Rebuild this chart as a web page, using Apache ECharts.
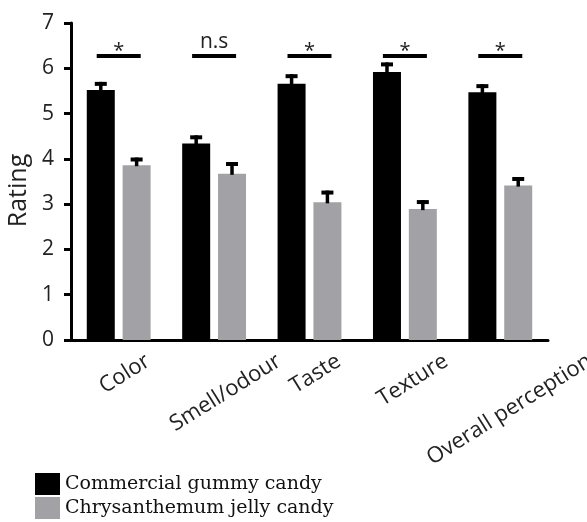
<!DOCTYPE html>
<html>
<head>
<meta charset="utf-8">
<script src="https://cdn.jsdelivr.net/npm/echarts@6/dist/echarts.min.js"></script>
<style>
  html, body { margin: 0; padding: 0; background: #fff; }
  #chart { width: 587px; height: 522px; }
</style>
</head>
<body>
<div id="chart"></div>
<script>
// Sensory ratings (mean, upper SEM) for two candy types
const categories = ['Color', 'Smell/odour', 'Taste', 'Texture', 'Overall perception'];
const commercial = [5.52, 4.34, 5.66, 5.92, 5.47];
const commercialErr = [0.18, 0.18, 0.21, 0.21, 0.18];
const chrysanthemum = [3.86, 3.67, 3.04, 2.89, 3.41];
const chrysanthemumErr = [0.17, 0.26, 0.26, 0.20, 0.19];
const sigLabels = ['*', 'n.s', '*', '*', '*'];
const sigLevel = 6.27;
const yTicks = [0, 1, 2, 3, 4, 5, 6, 7];
const seriesNames = ['Commercial gummy candy', 'Chrysanthemum jelly candy'];

const SANS = '"Open Sans", "DejaVu Sans", sans-serif';
const SERIF = '"DejaVu Serif", "Liberation Serif", serif';
const BLACK = '#000000';
const GREY = '#a2a2a6';
const BAR_W = 28;
const BAR_GAP = 0.28;
const BAR_OFFSET = (BAR_W + BAR_W * BAR_GAP) / 2;
const LABEL_SIZE = 22;
const LABEL_FONT = LABEL_SIZE + 'px ' + SANS;
const LABEL_ANGLE = 32 * Math.PI / 180;

const measureCtx = document.createElement('canvas').getContext('2d');
measureCtx.font = LABEL_FONT;

function errorSeries(name, values, errs, offset) {
  return {
    type: 'custom',
    name: name,
    z: 5,
    data: values.map(function (v, i) { return [i, v, errs[i]]; }),
    renderItem: function (params, api) {
      const i = api.value(0);
      const v = api.value(1);
      const e = api.value(2);
      const base = api.coord([i, v]);
      const top = api.coord([i, v + e]);
      const x = base[0] + offset;
      return {
        type: 'group',
        children: [
          { type: 'rect', shape: { x: x - 1.75, y: top[1], width: 3.5, height: base[1] - top[1] + 1 },
            style: { fill: '#000' } },
          { type: 'rect', shape: { x: x - 6, y: top[1], width: 12, height: 4 },
            style: { fill: '#000' } }
        ]
      };
    }
  };
}

const chartEl = document.getElementById('chart');
const chart = echarts.init(chartEl);
chart.setOption({
  animation: false,
  backgroundColor: '#ffffff',
  grid: { left: 71, right: 39, top: 23, bottom: 182, outerBoundsMode: 'none' },
  legend: {
    data: seriesNames,
    orient: 'vertical',
    left: 35,
    top: 473,
    itemWidth: 25,
    itemHeight: 22,
    itemGap: 2,
    icon: 'rect',
    padding: 0,
    textStyle: { fontFamily: SERIF, fontSize: 19, color: '#111' }
  },
  xAxis: {
    type: 'category',
    data: categories,
    axisLine: { lineStyle: { color: '#000', width: 3 } },
    axisTick: { alignWithLabel: true, length: 8, lineStyle: { color: '#000', width: 3 } },
    axisLabel: { show: false }
  },
  yAxis: {
    type: 'value',
    min: yTicks[0],
    max: yTicks[yTicks.length - 1],
    interval: 1,
    name: 'Rating',
    nameLocation: 'middle',
    nameGap: 34,
    nameTextStyle: { fontFamily: SANS, fontSize: 25, color: '#222', padding: [0, 18, 0, 0] },
    splitLine: { show: false },
    axisLine: { show: true, lineStyle: { color: '#000', width: 3 } },
    axisTick: { show: true, length: 7, lineStyle: { color: '#000', width: 3 } },
    axisLabel: { margin: 17, fontFamily: SANS, fontSize: 21, color: '#222' }
  },
  series: [
    {
      type: 'bar',
      name: seriesNames[0],
      data: commercial,
      barWidth: BAR_W,
      barGap: (BAR_GAP * 100) + '%',
      itemStyle: { color: BLACK }
    },
    {
      type: 'bar',
      name: seriesNames[1],
      data: chrysanthemum,
      barWidth: BAR_W,
      itemStyle: { color: GREY }
    },
    errorSeries('commercial-error', commercial, commercialErr, -BAR_OFFSET),
    errorSeries('chrysanthemum-error', chrysanthemum, chrysanthemumErr, BAR_OFFSET),
    {
      // significance bars with their markers
      type: 'custom',
      name: 'significance',
      z: 6,
      data: sigLabels.map(function (s, i) { return [i, sigLevel]; }),
      renderItem: function (params, api) {
        const p = api.coord([api.value(0), api.value(1)]);
        const label = sigLabels[params.dataIndex];
        const star = label === '*';
        return {
          type: 'group',
          children: [
            { type: 'rect', shape: { x: p[0] - 22, y: p[1] - 2, width: 44, height: 4 },
              style: { fill: '#000' } },
            { type: 'text', x: p[0], y: star ? p[1] + 5 : p[1] - 4,
              style: { text: label, fontFamily: SANS, fontSize: star ? 20 : 21,
                       fill: '#222', align: 'center', verticalAlign: 'bottom' } }
          ]
        };
      }
    },
    {
      // category names, rotated about their right end; the unrotated
      // name would sit roughly centred on its tick (kept inside the canvas)
      type: 'custom',
      name: 'category-names',
      z: 4,
      silent: true,
      data: categories.map(function (c, i) { return [i, 0]; }),
      renderItem: function (params, api) {
        const p = api.coord([api.value(0), 0]);
        const text = categories[params.dataIndex];
        const w = measureCtx.measureText(text).width;
        const right = Math.min(p[0] + w / 2 - 4, api.getWidth() - 3);
        return {
          type: 'text',
          x: right,
          y: p[1] + 10,
          rotation: LABEL_ANGLE,
          style: { text: text, fontFamily: SANS, fontSize: LABEL_SIZE, fill: '#222',
                   align: 'right', verticalAlign: 'top' }
        };
      }
    }
  ]
});
</script>
</body>
</html>
